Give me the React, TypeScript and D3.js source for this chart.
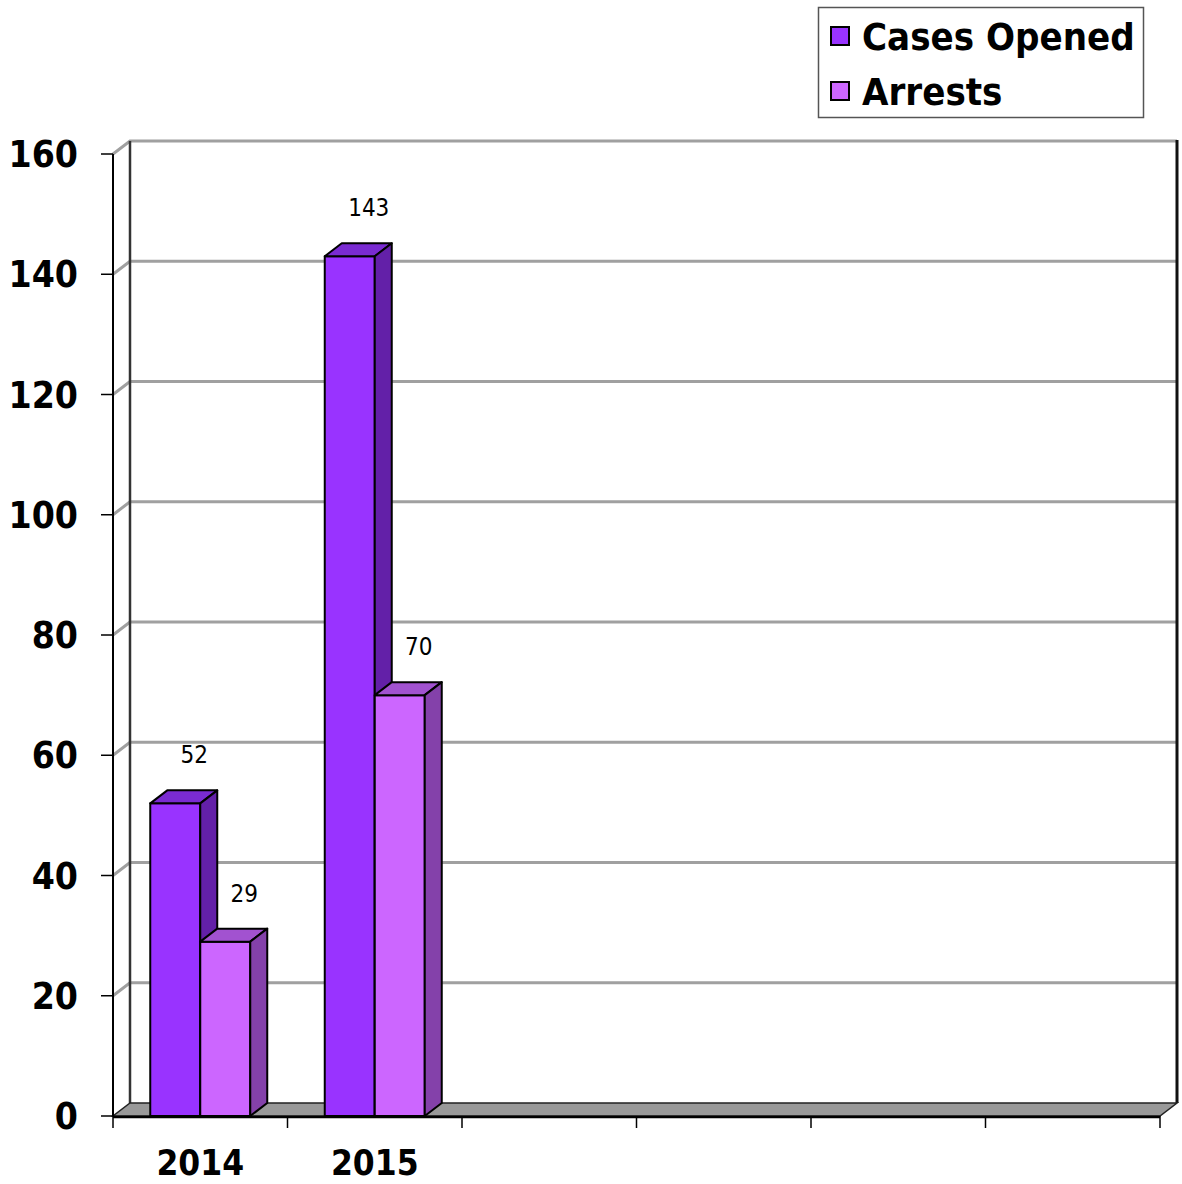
import * as d3 from "d3";

// chart values
const categories = ["2014", "2015", "", "", "", ""];
const seriesNames = ["Cases Opened", "Arrests"];
const casesOpened = [52, 143];
const arrests = [29, 70];
const yTicks = [0, 20, 40, 60, 80, 100, 120, 140, 160];

const seriesValues = [casesOpened, arrests];
const palette = [
  { front: "#9933FF", top: "#7A2BD2", side: "#6320A8" },
  { front: "#CC66FF", top: "#A252D0", side: "#8441AA" },
];

const FONT = "'DejaVu Sans Condensed', 'DejaVu Sans', sans-serif";

export default function App() {
  const width = 1182;
  const height = 1184;
  const x0 = 113;
  const x1 = 1160;
  // depth offset of the 3d look
  const dx = 17;
  const dy = -13;

  const y = d3.scaleLinear().domain([0, 160]).range([1116, 154]);
  const x = d3.scaleBand<number>().domain(d3.range(categories.length)).range([x0, x1]);
  const xs = d3
    .scaleBand<number>()
    .domain(d3.range(seriesNames.length))
    .range([0, x.bandwidth()])
    .paddingInner(0)
    .paddingOuter(0.745);

  const base = y(0);

  const bars: JSX.Element[] = [];
  const labels: JSX.Element[] = [];
  categories.forEach((cat, ci) => {
    seriesValues.forEach((vals, si) => {
      const v = vals[ci];
      if (v === undefined) return;
      const bx = (x(ci) as number) + (xs(si) as number);
      const bw = xs.bandwidth();
      const ty = y(v);
      const c = palette[si];
      bars.push(
        <g key={`${ci}-${si}`} stroke="#000" strokeWidth={2} strokeLinejoin="round">
          <rect x={bx} y={ty} width={bw} height={base - ty} fill={c.front} />
          <polygon
            points={`${bx},${ty} ${bx + dx},${ty + dy} ${bx + bw + dx},${ty + dy} ${bx + bw},${ty}`}
            fill={c.top}
          />
          <polygon
            points={`${bx + bw},${ty} ${bx + bw + dx},${ty + dy} ${bx + bw + dx},${base + dy} ${bx + bw},${base}`}
            fill={c.side}
          />
        </g>
      );
      labels.push(
        <text
          key={`l-${ci}-${si}`}
          x={bx + bw / 2 + 19}
          y={ty - 40}
          textAnchor="middle"
          fontFamily={FONT}
          fontSize={24}
          fill="#000"
        >
          {v}
        </text>
      );
    });
  });

  return (
    <svg
      width={width}
      height={height}
      style={{ position: "absolute", left: 0, top: 0, background: "#fff" }}
    >
      {/* gridlines on back wall and left wall */}
      {yTicks
        .filter((t) => t > 0)
        .map((t) => (
          <polyline
            key={`g-${t}`}
            points={`${x0},${y(t)} ${x0 + dx},${y(t) + dy} ${x1 + dx},${y(t) + dy}`}
            fill="none"
            stroke="#a0a0a0"
            strokeWidth={3}
          />
        ))}
      {/* back wall edges */}
      <line x1={x0 + dx} x2={x0 + dx} y1={y(160) + dy} y2={base + dy} stroke="#333" strokeWidth={2.5} />
      <line x1={x1 + dx} x2={x1 + dx} y1={y(160) + dy - 1} y2={base + dy} stroke="#111" strokeWidth={3} />

      {/* floor */}
      <polygon
        points={`${x0},${base} ${x1},${base} ${x1 + dx},${base + dy} ${x0 + dx},${base + dy}`}
        fill="#999"
        stroke="#222"
        strokeWidth={1.5}
      />

      {/* axes */}
      <line x1={x0} x2={x0} y1={y(160)} y2={base} stroke="#000" strokeWidth={2} />
      {yTicks.map((t) => (
        <g key={`yt-${t}`}>
          <line x1={x0 - 12} x2={x0} y1={y(t)} y2={y(t)} stroke="#000" strokeWidth={1.5} />
          <text
            x={78}
            y={y(t) + 13}
            textAnchor="end"
            fontFamily={FONT}
            fontWeight="bold"
            fontSize={37}
            fill="#000"
          >
            {t}
          </text>
        </g>
      ))}
      <line x1={x0} x2={x1} y1={base + 1} y2={base + 1} stroke="#000" strokeWidth={2.5} />
      {d3.range(categories.length + 1).map((i) => {
        const tx = x0 + i * x.step();
        return <line key={`xt-${i}`} x1={tx} x2={tx} y1={base} y2={base + 12} stroke="#000" strokeWidth={1.5} />;
      })}
      {categories.map((c, i) => (
        <text
          key={`xl-${i}`}
          x={(x(i) as number) + x.bandwidth() / 2}
          y={1175}
          textAnchor="middle"
          fontFamily={FONT}
          fontWeight="bold"
          fontSize={35}
          fill="#000"
        >
          {c}
        </text>
      ))}

      {bars}
      {labels}

      {/* legend */}
      <rect x={818.5} y={7.5} width={325} height={110} fill="#fff" stroke="#555" strokeWidth={1.5} />
      {seriesNames.map((s, i) => (
        <g key={`lg-${i}`} transform={`translate(831, ${27 + i * 55})`}>
          <rect x={0} y={0} width={18} height={18} fill={palette[i].front} stroke="#000" strokeWidth={2} />
          <text x={31} y={23} fontFamily={FONT} fontWeight="bold" fontSize={38} fill="#000">
            {s}
          </text>
        </g>
      ))}
    </svg>
  );
}
